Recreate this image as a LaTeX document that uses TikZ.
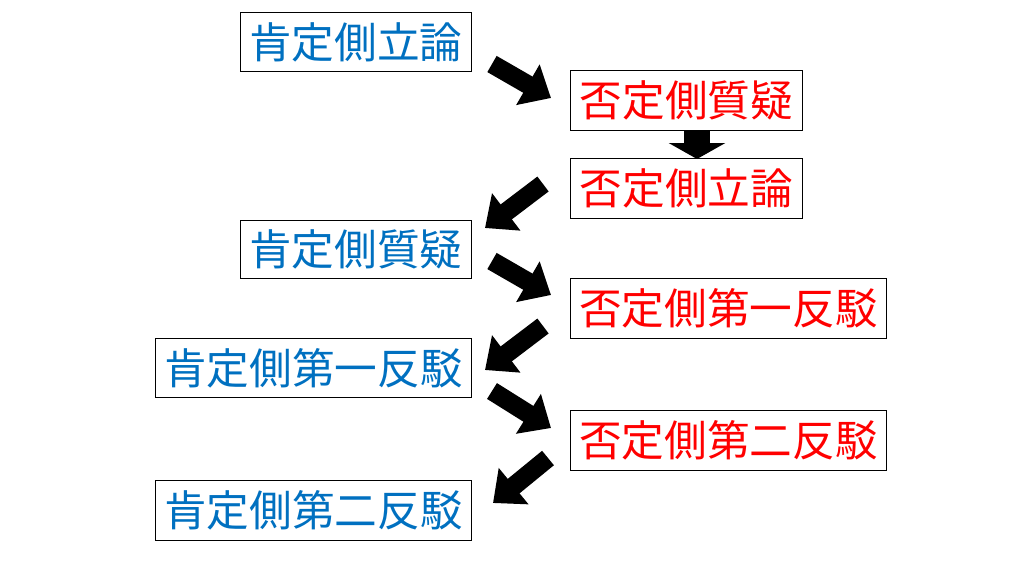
\documentclass[tikz,border=0pt]{standalone}
\usepackage{fontspec}
\setmainfont{Noto Sans CJK JP}
\usetikzlibrary{arrows.meta}
\definecolor{affblue}{RGB}{0,112,192}
\tikzset{
  box/.style={draw, line width=0.6pt, anchor=north west, inner sep=0pt, font=\fontsize{32}{32}\selectfont},
  aff/.style={box, text=affblue},
  neg/.style={box, text=red},
  big arrow/.style={line width=14pt, -{Triangle[length=20pt,width=34pt]}},
  wide arrow/.style={line width=20pt, -{Triangle[length=12pt,width=42pt]}}
}
\begin{document}
\begin{tikzpicture}[x=0.75pt,y=-0.75pt]
\useasboundingbox (0,0) rectangle (1024,576);

\node[aff, minimum width=231*0.75pt, minimum height=59*0.75pt] (a1) at (240,12) {肯定側立論};
\node[neg, minimum width=232*0.75pt, minimum height=60*0.75pt] (n1) at (570,70) {否定側質疑};
\node[neg, minimum width=232*0.75pt, minimum height=60*0.75pt] (n2) at (570,158) {否定側立論};
\node[aff, minimum width=231*0.75pt, minimum height=58*0.75pt] (a2) at (240,220) {肯定側質疑};
\node[neg, minimum width=316*0.75pt, minimum height=60*0.75pt] (n3) at (570,278) {否定側第一反駁};
\node[aff, minimum width=316*0.75pt, minimum height=59*0.75pt] (a3) at (155,338) {肯定側第一反駁};
\node[neg, minimum width=316*0.75pt, minimum height=60*0.75pt] (n4) at (570,410) {否定側第二反駁};
\node[aff, minimum width=316*0.75pt, minimum height=60*0.75pt] (a4) at (155,480) {肯定側第二反駁};

% block arrows
\coordinate (s1) at (492,64);  \coordinate (e1) at (551,98);
\coordinate (s2) at (697,130); \coordinate (e2) at (697,159);
\coordinate (s3) at (543,184); \coordinate (e3) at (485,228);
\coordinate (s4) at (492,261); \coordinate (e4) at (551,295);
\coordinate (s5) at (543,326); \coordinate (e5) at (485,370);
\coordinate (s6) at (492,391); \coordinate (e6) at (551,428);
\coordinate (s7) at (548,458); \coordinate (e7) at (493,503);
\draw[wide arrow] (s2) -- (e2);
\foreach \i in {1,3,4,5,6,7}
  \draw[big arrow] (s\i) -- (e\i);

\end{tikzpicture}
\end{document}
